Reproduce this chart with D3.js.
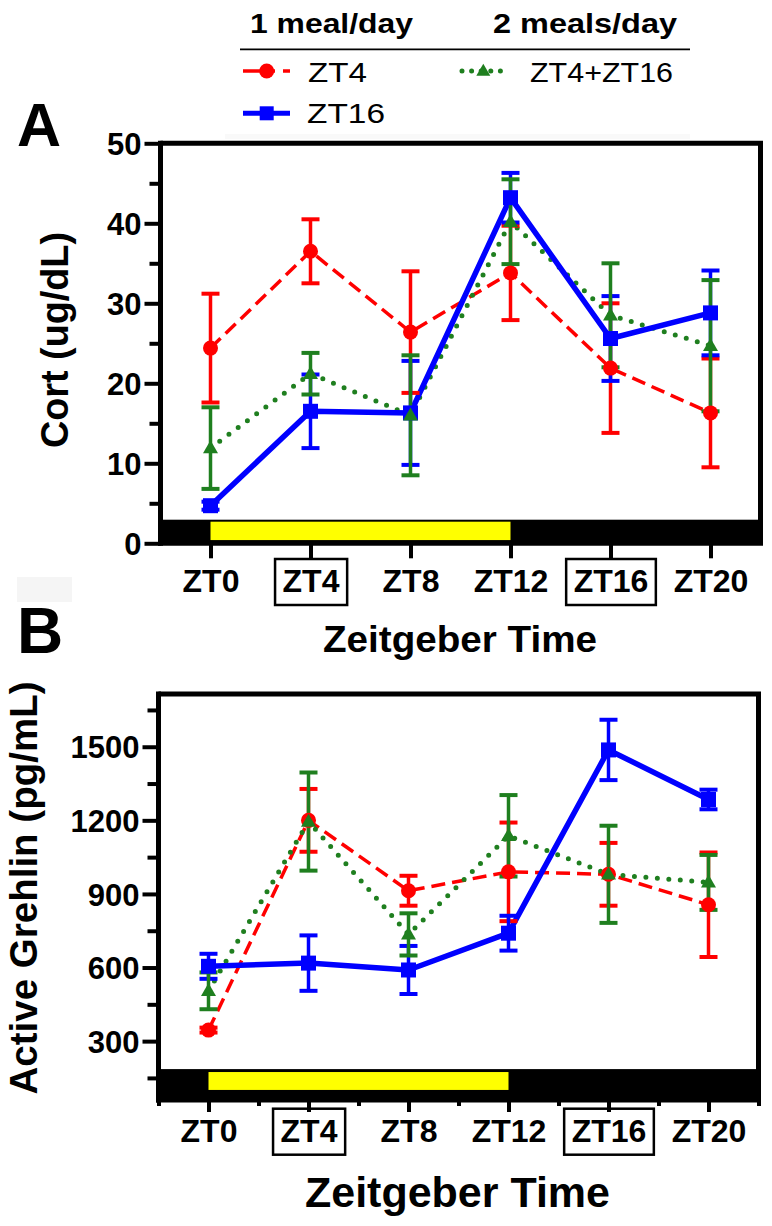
<!DOCTYPE html>
<html>
<head>
<meta charset="utf-8">
<script src="https://cdn.jsdelivr.net/npm/d3@7"></script>
<style>
  html, body { margin: 0; padding: 0; background: #fff; }
  svg { display: block; }
  text { font-family: "Liberation Sans", Arial, Helvetica, sans-serif; }
</style>
</head>
<body>
<svg id="chart" width="772" height="1226"></svg>
<script>
// ---------- DATA ----------
const ZT = [0, 4, 8, 12, 16, 20];
const ztLabels = ["ZT0", "ZT4", "ZT8", "ZT12", "ZT16", "ZT20"];
const boxedLabels = ["ZT4", "ZT16"];
const seriesNames = ["ZT4", "ZT16", "ZT4+ZT16"];
const groupHeaders = ["1 meal/day", "2 meals/day"];

// Panel A: Cort (ug/dL)
const cortZT4 = [24.4, 36.5, 26.4, 33.8, 21.9, 16.3];
const cortZT4Err = [6.8, 4.0, 7.6, 5.9, 8.1, 6.8];
const cortZT16 = [4.7, 16.5, 16.3, 43.2, 25.6, 28.8];
const cortZT16Err = [0.5, 4.6, 6.5, 3.1, 5.3, 5.3];
const cortBoth = [11.9, 21.2, 16.0, 40.2, 28.5, 24.7];
const cortBothErr = [5.1, 2.6, 7.5, 5.3, 6.5, 8.2];
const cortTicks = [0, 10, 20, 30, 40, 50];
const cortMinor = [5, 15, 25, 35, 45];

// Panel B: Active Grehlin (pg/mL)
const ghrZT4 = [345, 1200, 913, 990, 980, 856];
const ghrZT4Err = [10, 128, 61, 201, 128, 213];
const ghrZT16 = [605, 618, 590, 740, 1487, 1285];
const ghrZT16Err = [51, 113, 98, 71, 123, 40];
const ghrBoth = [505, 1195, 735, 1137, 980, 947];
const ghrBothErr = [75, 200, 86, 166, 198, 112];
const ghrTicks = [300, 600, 900, 1200, 1500];
const ghrMinor = [150, 450, 750, 1050, 1350, 1650];
const bMinorX = [-2, 2, 6, 10, 14, 18, 22];

// ---------- STYLE ----------
const RED = "#ff0000", BLUE = "#0000ff", GREEN = "#1f7f1f", YELLOW = "#ffff00";
const svg = d3.select("#chart");

function triPath(cx, cy, w, h) {
  return `M${cx},${cy - h * 0.6} L${cx + w / 2},${cy + h * 0.4} L${cx - w / 2},${cy + h * 0.4} Z`;
}

function drawPanel(cfg) {
  const g = svg.append("g");
  const x = d3.scaleLinear().domain([-2, 22]).range(cfg.xRange);
  const y = d3.scaleLinear().domain(cfg.yDomain).range(cfg.yRange);
  const x0 = x(-2), x1 = x(22), yTop = y(cfg.yDomain[1]), yBot = y(cfg.yDomain[0]);

  // light/dark bar
  g.append("rect").attr("x", x0).attr("y", y(cfg.barTop)).attr("width", x1 - x0)
    .attr("height", yBot - y(cfg.barTop)).attr("fill", "#000");
  g.append("rect").attr("x", x(0)).attr("y", y(cfg.yelTop)).attr("width", x(12) - x(0))
    .attr("height", y(cfg.yelBot) - y(cfg.yelTop)).attr("fill", YELLOW);

  // frame (top + right)
  g.append("path").attr("d", `M${x0},${yTop} L${x1},${yTop} L${x1},${yBot}`)
    .attr("fill", "none").attr("stroke", "#000").attr("stroke-width", 5);

  // y axis
  const yAx = g.append("g").attr("transform", `translate(${x0},0)`)
    .call(d3.axisLeft(y).tickValues(cfg.yTicks).tickFormat(d3.format("d")).tickSize(16).tickPadding(3));
  yAx.select(".domain").remove();
  yAx.selectAll(".tick line").attr("stroke", "#000").attr("stroke-width", 4);
  yAx.selectAll(".tick text").attr("font-size", 31).attr("font-weight", "bold")
    .attr("fill", "#000").attr("x", -19).attr("dy", "0.36em");
  const yMin = g.append("g").attr("transform", `translate(${x0},0)`)
    .call(d3.axisLeft(y).tickValues(cfg.yMinor).tickSize(11).tickFormat(""));
  yMin.select(".domain").remove();
  yMin.selectAll(".tick line").attr("stroke", "#000").attr("stroke-width", 4);
  g.append("line").attr("x1", x0).attr("x2", x0).attr("y1", yTop - 2.5).attr("y2", yBot + 2.5)
    .attr("stroke", "#000").attr("stroke-width", 5);

  // x axis
  const xAx = g.append("g").attr("transform", `translate(0,${yBot})`)
    .call(d3.axisBottom(x).tickValues(ZT).tickFormat((d, i) => ztLabels[i]).tickSize(cfg.xTickLen));
  xAx.select(".domain").remove();
  xAx.selectAll(".tick line").attr("stroke", "#000").attr("stroke-width", 4);
  xAx.selectAll(".tick text").attr("font-size", 32).attr("font-weight", "bold").attr("fill", "#000")
    .attr("y", cfg.labelBase - yBot).attr("dy", 0);
  xAx.selectAll(".tick").each(function (d, i) {
    if (boxedLabels.includes(ztLabels[i])) {
      const t = d3.select(this).select("text").node().getBBox();
      d3.select(this).append("rect").attr("x", t.x - 7.5).attr("y", cfg.labelBase - yBot - 33)
        .attr("width", t.width + 15).attr("height", 46)
        .attr("fill", "none").attr("stroke", "#000").attr("stroke-width", 2.5);
    }
  });
  if (cfg.xMinor) {
    const xMin = g.append("g").attr("transform", `translate(0,${yBot})`)
      .call(d3.axisBottom(x).tickValues(cfg.xMinor).tickSize(6).tickFormat(""));
    xMin.select(".domain").remove();
    xMin.selectAll(".tick line").attr("stroke", "#000").attr("stroke-width", 4);
  }
  g.append("line").attr("x1", x0 - 2.5).attr("x2", x1 + 2.5).attr("y1", yBot).attr("y2", yBot)
    .attr("stroke", "#000").attr("stroke-width", 5);

  // titles
  g.append("text").attr("x", cfg.xTitle[0]).attr("y", cfg.xTitle[1]).attr("text-anchor", "middle")
    .attr("font-size", cfg.xTitle[2]).attr("font-weight", "bold")
    .attr("textLength", cfg.xTitle[3]).attr("lengthAdjust", "spacingAndGlyphs").text("Zeitgeber Time");
  g.append("text").attr("transform", `translate(${cfg.yTitle[0]},${cfg.yTitle[1]}) rotate(-90)`)
    .attr("text-anchor", "middle").attr("font-size", cfg.yTitle[2]).attr("font-weight", "bold")
    .attr("textLength", cfg.yTitle[3]).attr("lengthAdjust", "spacingAndGlyphs").text(cfg.yLabel);
  g.append("text").attr("x", cfg.panel[1]).attr("y", cfg.panel[2]).attr("font-size", cfg.panel[3])
    .attr("font-weight", "bold").text(cfg.panel[0]);

  // series
  const series = [
    { vals: cfg.s1, err: cfg.e1, color: RED, dash: "14 7", width: 3.5, mark: "circle" },
    { vals: cfg.s3, err: cfg.e3, color: GREEN, dash: "0 11.5", width: 5, mark: "tri" },
    { vals: cfg.s2, err: cfg.e2, color: BLUE, dash: null, width: 5.5, mark: "square" }
  ];
  const line = d3.line().x((d, i) => x(ZT[i])).y(d => y(d));
  series.forEach(s => {
    g.append("path").attr("d", line(s.vals)).attr("fill", "none").attr("stroke", s.color)
      .attr("stroke-width", s.width).attr("stroke-dasharray", s.dash)
      .attr("stroke-linecap", s.mark === "tri" ? "round" : "butt").attr("stroke-linejoin", "round");
  });
  [series[0], series[2], series[1]].forEach(s => {
    s.vals.forEach((v, i) => {
      const cx = x(ZT[i]);
      const yh = y(v + s.err[i]), yl = y(v - s.err[i]);
      g.append("line").attr("x1", cx).attr("x2", cx).attr("y1", yh).attr("y2", yl)
        .attr("stroke", s.color).attr("stroke-width", 3.5);
      [yh, yl].forEach(yy => g.append("line").attr("x1", cx - 9).attr("x2", cx + 9)
        .attr("y1", yy).attr("y2", yy).attr("stroke", s.color).attr("stroke-width", 4));
    });
  });
  [series[0], series[2], series[1]].forEach(s => {
    s.vals.forEach((v, i) => {
      const cx = x(ZT[i]), cy = y(v);
      if (s.mark === "circle") g.append("circle").attr("cx", cx).attr("cy", cy).attr("r", 7.5).attr("fill", s.color);
      else if (s.mark === "square") g.append("rect").attr("x", cx - 7.5).attr("y", cy - 7.5)
        .attr("width", 15).attr("height", 15).attr("fill", s.color);
      else g.append("path").attr("d", triPath(cx, cy, 15, 13)).attr("fill", s.color);
    });
  });
}

// faint background artifacts
svg.append("rect").attr("x", 225).attr("y", 134).attr("width", 465).attr("height", 5).attr("fill", "#f9f9f9");
svg.append("rect").attr("x", 17).attr("y", 577).attr("width", 55).attr("height", 25).attr("fill", "#f5f5f5");

drawPanel({
  xRange: [160.5, 760.5], yDomain: [0, 50], yRange: [543.3, 143.3],
  barTop: 2.95, yelTop: 2.7, yelBot: 0.4,
  yTicks: cortTicks, yMinor: cortMinor, xTickLen: 15, xMinor: null, labelBase: 592,
  xTitle: [460, 652, 37, 274], yTitle: [68, 340, 38, 216], yLabel: "Cort (ug/dL)",
  panel: ["A", 17, 146, 61],
  s1: cortZT4, e1: cortZT4Err, s2: cortZT16, e2: cortZT16Err, s3: cortBoth, e3: cortBothErr
});

drawPanel({
  xRange: [158.5, 758.5], yDomain: [60, 1715], yRange: [1100, 694],
  barTop: 186, yelTop: 174, yelBot: 101,
  yTicks: ghrTicks, yMinor: ghrMinor, xTickLen: 12, xMinor: bMinorX, labelBase: 1141.7,
  xTitle: [457.5, 1207, 43, 305], yTitle: [37, 888, 38.5, 413], yLabel: "Active Grehlin (pg/mL)",
  panel: ["B", 17, 653, 64],
  s1: ghrZT4, e1: ghrZT4Err, s2: ghrZT16, e2: ghrZT16Err, s3: ghrBoth, e3: ghrBothErr
});

// ---------- LEGEND ----------
const lg = svg.append("g");
lg.append("text").attr("x", 250).attr("y", 33).attr("font-size", 27).attr("font-weight", "bold")
  .attr("textLength", 163).attr("lengthAdjust", "spacingAndGlyphs").text(groupHeaders[0]);
lg.append("text").attr("x", 493).attr("y", 33).attr("font-size", 27).attr("font-weight", "bold")
  .attr("textLength", 184).attr("lengthAdjust", "spacingAndGlyphs").text(groupHeaders[1]);
lg.append("line").attr("x1", 240).attr("x2", 690).attr("y1", 49.3).attr("y2", 49.3)
  .attr("stroke", "#000").attr("stroke-width", 1.8);
// red
lg.append("line").attr("x1", 243).attr("x2", 290).attr("y1", 71).attr("y2", 71)
  .attr("stroke", RED).attr("stroke-width", 3.5).attr("stroke-dasharray", "32 8 7");
lg.append("circle").attr("cx", 266.7).attr("cy", 71).attr("r", 7.5).attr("fill", RED);
lg.append("text").attr("x", 308).attr("y", 81.7).attr("font-size", 28)
  .attr("textLength", 59).attr("lengthAdjust", "spacingAndGlyphs").text(seriesNames[0]);
// blue
lg.append("line").attr("x1", 243).attr("x2", 290).attr("y1", 113.3).attr("y2", 113.3)
  .attr("stroke", BLUE).attr("stroke-width", 5);
lg.append("rect").attr("x", 259.7).attr("y", 106.3).attr("width", 14).attr("height", 14).attr("fill", BLUE);
lg.append("text").attr("x", 307).attr("y", 123.3).attr("font-size", 28)
  .attr("textLength", 78).attr("lengthAdjust", "spacingAndGlyphs").text(seriesNames[1]);
// green
lg.append("line").attr("x1", 462).attr("x2", 501).attr("y1", 71).attr("y2", 71)
  .attr("stroke", GREEN).attr("stroke-width", 5).attr("stroke-linecap", "round").attr("stroke-dasharray", "0 9.6");
lg.append("path").attr("d", triPath(483.3, 71, 14, 12)).attr("fill", GREEN);
lg.append("text").attr("x", 530).attr("y", 81.7).attr("font-size", 28)
  .attr("textLength", 143).attr("lengthAdjust", "spacingAndGlyphs").text(seriesNames[2]);
</script>
</body>
</html>
